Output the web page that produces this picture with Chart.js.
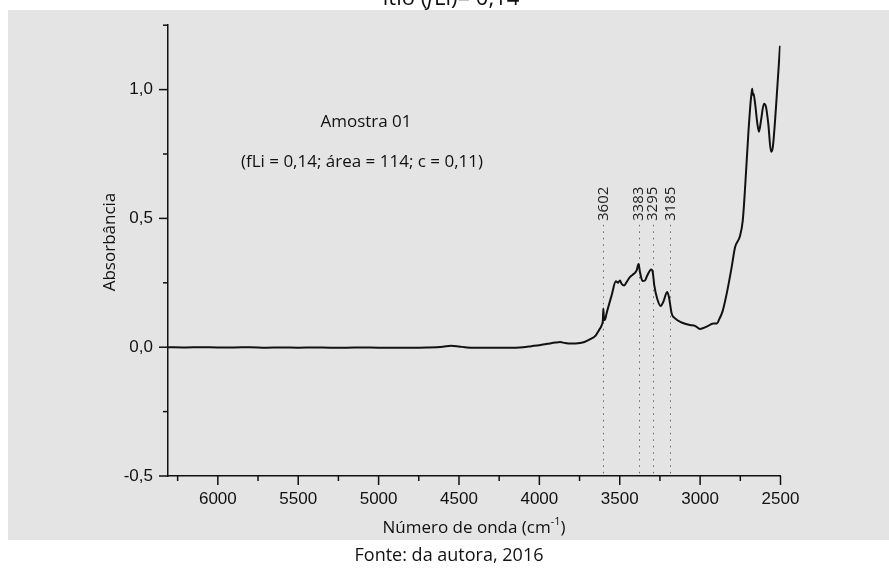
<!DOCTYPE html>
<html>
<head>
<meta charset="utf-8">
<script src="https://cdn.jsdelivr.net/npm/chart.js@4.4.1/dist/chart.umd.min.js"></script>
<style>
  html, body { margin: 0; padding: 0; background: #fff; }
</style>
</head>
<body>
<canvas id="spectrum" width="889" height="568"></canvas>
<script>
// spectrum (wavenumber in cm-1, absorbance)
const waveNumbers = [
  6310, 6200, 6100, 6000, 5900, 5800, 5700, 5600, 5500, 5400, 5300, 5200, 5100, 5000,
  4900, 4800, 4700, 4600, 4550, 4500, 4450, 4400, 4300, 4200, 4100, 4050, 4000, 3950,
  3900, 3870, 3840, 3800, 3760, 3720, 3686, 3650, 3630, 3612, 3605, 3602, 3598, 3590,
  3582, 3551, 3524, 3510, 3499, 3488, 3472, 3457, 3437, 3412, 3395, 3383, 3374, 3358,
  3343, 3329, 3305, 3295, 3285, 3267, 3245, 3229, 3205, 3194, 3177, 3156, 3115, 3063,
  3032, 3001, 2959, 2918, 2897, 2880, 2860, 2835, 2804, 2783, 2752, 2735, 2721, 2700,
  2685, 2679, 2676, 2672, 2668, 2659, 2644, 2634, 2621, 2603, 2590, 2576, 2559, 2549,
  2528, 2503
];
const absorbance = [
  0.000, -0.001, 0.000, -0.001, -0.001, 0.000, -0.002, -0.001, -0.002, -0.001, -0.002, -0.002, -0.001, -0.002,
  -0.002, -0.002, -0.001, 0.002, 0.006, 0.003, -0.001, -0.002, -0.002, -0.002, 0.000, 0.004, 0.008, 0.013,
  0.018, 0.020, 0.016, 0.014, 0.015, 0.020, 0.030, 0.045, 0.065, 0.086, 0.105, 0.150, 0.105, 0.110,
  0.131, 0.200, 0.256, 0.250, 0.259, 0.246, 0.240, 0.253, 0.272, 0.285, 0.298, 0.323, 0.291, 0.257,
  0.259, 0.278, 0.302, 0.292, 0.240, 0.188, 0.160, 0.176, 0.214, 0.195, 0.131, 0.112, 0.096, 0.086,
  0.083, 0.071, 0.080, 0.092, 0.092, 0.110, 0.140, 0.207, 0.310, 0.387, 0.432, 0.490, 0.612, 0.830,
  0.958, 0.990, 1.003, 0.980, 0.985, 0.951, 0.868, 0.836, 0.881, 0.945, 0.932, 0.868, 0.759, 0.772,
  0.932, 1.170
];
const peakPositions = [3602, 3383, 3295, 3185];
const xTickLabels = [6000, 5500, 5000, 4500, 4000, 3500, 3000, 2500];
const yTickLabels = [-0.5, 0.0, 0.5, 1.0];

const bgGray = '#e4e4e4';
const textFont = '"Open Sans", sans-serif';
const tickFont = { family: '"Liberation Sans", Arial, sans-serif', size: 17 };

const figurePlugin = {
  id: 'figure',
  beforeDraw(chart) {
    const c = chart.ctx;
    c.save();
    c.fillStyle = '#fff';
    c.fillRect(0, 0, chart.width, chart.height);
    c.fillStyle = bgGray;
    c.fillRect(8, 10, chart.width - 8, 530);
    // clipped caption of the figure above
    c.fillStyle = '#111';
    c.textBaseline = 'alphabetic';
    const parts = [['ítio (', 'normal'], ['f', 'italic'], ['Li)= 0,14', 'normal']];
    let w = 0;
    parts.forEach(p => { c.font = p[1] + ' 22px ' + textFont; w += c.measureText(p[0]).width; });
    let x = 451 - w / 2;
    c.save();
    c.beginPath();
    c.rect(0, 0, chart.width, 10);
    c.clip();
    parts.forEach(p => {
      c.font = p[1] + ' 22px ' + textFont;
      c.fillText(p[0], x, 5);
      x += c.measureText(p[0]).width;
    });
    c.restore();
    c.restore();
  },
  beforeDatasetsDraw(chart) {
    const c = chart.ctx;
    const xs = chart.scales.x, ys = chart.scales.y;
    const bottom = chart.chartArea.bottom;
    c.save();
    c.strokeStyle = '#666';
    c.lineWidth = 1;
    c.setLineDash([1.5, 5]);
    peakPositions.forEach(p => {
      const x = Math.round(xs.getPixelForValue(p)) + 0.5;
      c.beginPath();
      c.moveTo(x, ys.getPixelForValue(0.475));
      c.lineTo(x, bottom);
      c.stroke();
    });
    c.restore();
  },
  afterDraw(chart) {
    const c = chart.ctx;
    const xs = chart.scales.x, ys = chart.scales.y;
    const { left, bottom } = chart.chartArea;
    c.save();
    // tick marks, major and minor
    c.strokeStyle = '#111';
    c.lineWidth = 1.5;
    for (let v = -0.5; v <= 1.2501; v += 0.25) {
      const y = ys.getPixelForValue(v);
      const len = yTickLabels.some(t => Math.abs(t - v) < 1e-6) ? 9 : 5;
      c.beginPath();
      c.moveTo(left - len, y);
      c.lineTo(left, y);
      c.stroke();
    }
    for (let v = 2500; v <= 6250; v += 250) {
      const x = xs.getPixelForValue(v);
      const len = xTickLabels.includes(v) ? 9 : 5;
      c.beginPath();
      c.moveTo(x, bottom);
      c.lineTo(x, bottom + len);
      c.stroke();
    }
    // peak labels
    c.fillStyle = '#222';
    c.font = '15px ' + textFont;
    c.textAlign = 'left';
    c.textBaseline = 'middle';
    peakPositions.forEach(p => {
      c.save();
      c.translate(xs.getPixelForValue(p), ys.getPixelForValue(0.49));
      c.rotate(-Math.PI / 2);
      c.fillText(String(p), 0, 0);
      c.restore();
    });
    // sample annotation
    c.fillStyle = '#111';
    c.font = '17px ' + textFont;
    c.textAlign = 'center';
    c.fillText('Amostra 01', 366, 122);
    c.fillText('(fLi = 0,14; área = 114; c = 0,11)', 362, 162);
    // axis titles
    c.save();
    c.translate(110, 242);
    c.rotate(-Math.PI / 2);
    c.fillText('Absorbância', 0, 0);
    c.restore();
    c.textBaseline = 'alphabetic';
    c.textAlign = 'left';
    const main = 'Número de onda (cm', sup = '-1', close = ')';
    c.font = '17px ' + textFont;
    const wMain = c.measureText(main).width, wClose = c.measureText(close).width;
    c.font = '11px ' + textFont;
    const wSup = c.measureText(sup).width;
    let x0 = 474 - (wMain + wSup + wClose) / 2;
    c.font = '17px ' + textFont;
    c.fillText(main, x0, 533);
    c.font = '11px ' + textFont;
    c.fillText(sup, x0 + wMain, 525);
    c.font = '17px ' + textFont;
    c.fillText(close, x0 + wMain + wSup, 533);
    // source line below the figure
    c.font = '18px ' + textFont;
    c.textAlign = 'center';
    c.fillText('Fonte: da autora, 2016', 449, 561);
    c.restore();
  }
};

new Chart(document.getElementById('spectrum'), {
  type: 'line',
  data: {
    datasets: [{
      data: waveNumbers.map((w, i) => ({ x: w, y: absorbance[i] })),
      borderColor: '#111',
      borderWidth: 2,
      pointRadius: 0,
      cubicInterpolationMode: 'monotone',
      fill: false
    }]
  },
  options: {
    responsive: false,
    animation: false,
    devicePixelRatio: 1,
    layout: { padding: { top: 20, right: 108.5, left: 0, bottom: 0 } },
    plugins: { legend: { display: false }, tooltip: { enabled: false } },
    scales: {
      x: {
        type: 'linear',
        reverse: true,
        min: 2500,
        max: 6310,
        grid: { display: false, drawTicks: false },
        border: { display: true, color: '#111', width: 1.5 },
        afterBuildTicks: s => { s.ticks = xTickLabels.map(v => ({ value: v })); },
        ticks: {
          autoSkip: false,
          maxRotation: 0,
          padding: 13,
          color: '#111',
          font: tickFont,
          callback: v => String(v)
        },
        afterFit: s => { s.height = 92; }
      },
      y: {
        min: -0.5,
        max: 1.25,
        grid: { display: false, drawTicks: false },
        border: { display: true, color: '#111', width: 1.5 },
        afterBuildTicks: s => { s.ticks = yTickLabels.map(v => ({ value: v })); },
        ticks: {
          autoSkip: false,
          padding: 15,
          color: '#111',
          font: tickFont,
          callback: v => v.toFixed(1).replace('.', ',')
        },
        afterFit: s => { s.width = 168; }
      }
    }
  },
  plugins: [figurePlugin]
});
</script>
</body>
</html>
